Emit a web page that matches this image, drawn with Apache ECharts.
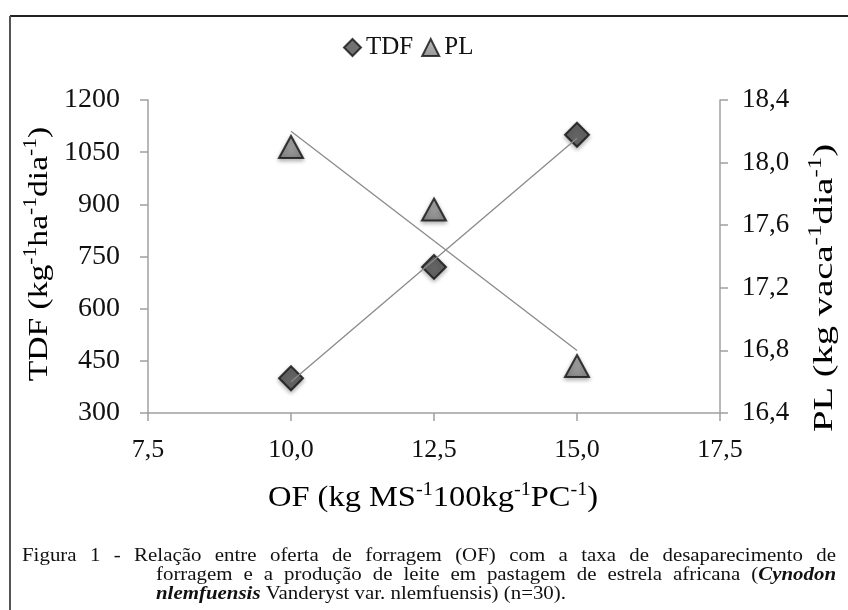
<!DOCTYPE html>
<html>
<head>
<meta charset="utf-8">
<script src="https://cdn.jsdelivr.net/npm/echarts@6/dist/echarts.min.js"></script>
<style>
html,body{margin:0;padding:0;background:#fff;}
#chart{width:848px;height:610px;}
</style>
</head>
<body>
<div id="chart"></div>
<script>
// ---- data ----
const ofValues = [10.0, 12.5, 15.0];
const tdfValues = [400, 720, 1100];
const plValues = [18.1, 17.7, 16.7];
// trend line end points
const tdfTrendX = [10.0, 15.0];
const tdfTrendY = [390, 1090];
const plTrendX = [10.0, 15.0];
const plTrendY = [18.2, 16.8];
const xTicks = [7.5, 10.0, 12.5, 15.0, 17.5];
const leftTicks = [300, 450, 600, 750, 900, 1050, 1200];
const rightTicks = [16.4, 16.8, 17.2, 17.6, 18.0, 18.4];

const SERIF = '"Liberation Serif", "DejaVu Serif", serif';
const comma1 = v => Number(v).toFixed(1).replace('.', ',');

const chart = echarts.init(document.getElementById('chart'), null, {renderer: 'canvas'});

const captionFont = 19;
const capScale = 1.1;
const caption = [
  {x0: 22, x1: 836, y: 556, justify: true, words: [
    ['Figura','n'],['1','n'],['-','n'],['Relação','n'],['entre','n'],['oferta','n'],['de','n'],['forragem','n'],['(OF)','n'],['com','n'],['a','n'],['taxa','n'],['de','n'],['desaparecimento','n'],['de','n']]},
  {x0: 156, x1: 836, y: 575, justify: true, words: [
    ['forragem','n'],['e','n'],['a','n'],['produção','n'],['de','n'],['leite','n'],['em','n'],['pastagem','n'],['de','n'],['estrela','n'],['africana','n'],['(','n',true],['Cynodon','b']]},
  {x0: 156, x1: 836, y: 594, justify: false, words: [
    ['nlemfuensis','b'],['Vanderyst','n'],['var.','n'],['nlemfuensis)','n'],['(n=30).','n']]}
];

function fontOf(kind) {
  return (kind === 'b' ? 'italic bold ' : '') + captionFont + 'px ' + SERIF;
}
const measureCtx = document.createElement('canvas').getContext('2d');
function measure(t, kind) { measureCtx.font = fontOf(kind); return measureCtx.measureText(t).width * capScale; }

const graphics = [];
// frame lines
graphics.push({type: 'line', shape: {x1: 10, y1: 16, x2: 848, y2: 16}, style: {stroke: '#222', lineWidth: 2}});
graphics.push({type: 'line', shape: {x1: 10, y1: 16, x2: 10, y2: 610}, style: {stroke: '#555', lineWidth: 2}});

caption.forEach(line => {
  const groups = [];
  line.words.forEach(w => {
    if (groups.length && groups[groups.length - 1].glueNext) {
      groups[groups.length - 1].parts.push(w);
      groups[groups.length - 1].glueNext = !!w[2];
    } else {
      groups.push({parts: [w], glueNext: !!w[2]});
    }
  });
  groups.forEach(g => g.w = g.parts.reduce((s, p) => s + measure(p[0], p[1]), 0));
  const total = groups.reduce((s, g) => s + g.w, 0);
  const spaceW = measure(' ', 'n');
  const gap = line.justify ? (line.x1 - line.x0 - total) / (groups.length - 1) : spaceW;
  let x = line.x0;
  groups.forEach(g => {
    let gx = x;
    g.parts.forEach(p => {
      graphics.push({type: 'text', x: gx, y: line.y, scaleX: capScale, style: {
        text: p[0], font: fontOf(p[1]), fill: '#111', align: 'left', verticalAlign: 'middle'}});
      gx += measure(p[0], p[1]);
    });
    x += g.w + gap;
  });
});

// axis names
function richNames(base, sup, lh) {
  return {
    b: {fontSize: base, fontFamily: SERIF, color: '#1a1a1a', verticalAlign: 'bottom', lineHeight: lh},
    s: {fontSize: sup, fontFamily: SERIF, color: '#1a1a1a', verticalAlign: 'top', lineHeight: lh}
  };
}
graphics.push({type: 'text', x: 38, y: 254, rotation: Math.PI / 2, scaleX: 1.2, style: {
  text: '{b|TDF (kg}{s|-1}{b|ha}{s|-1}{b|dia}{s|-1}{b|)}', rich: richNames(28, 18, 31), align: 'center', verticalAlign: 'middle'}});
graphics.push({type: 'text', x: 823, y: 288, rotation: Math.PI / 2, scaleX: 1.38, style: {
  text: '{b|PL (kg vaca}{s|-1}{b|dia}{s|-1}{b|)}', rich: richNames(28, 18, 31), align: 'center', verticalAlign: 'middle'}});
graphics.push({type: 'text', x: 433, y: 497, scaleX: 1.12, style: {
  text: '{b|OF (kg MS}{s|-1}{b|100kg}{s|-1}{b|PC}{s|-1}{b|)}', rich: richNames(29, 18, 32), align: 'center', verticalAlign: 'middle'}});

const axisLineStyle = {color: '#a0a0a0', width: 1.5};

const option = {
  backgroundColor: '#fff',
  animation: false,
  textStyle: {fontFamily: SERIF},
  legend: {
    top: 30, left: 338,
    itemWidth: 17, itemHeight: 17, itemGap: 8,
    textStyle: {fontSize: 25, fontFamily: SERIF, color: '#111'},
    data: ['TDF', 'PL']
  },
  grid: {left: 148, right: 128, top: 100, bottom: 197, containLabel: false},
  xAxis: {
    type: 'value', min: 7.5, max: 17.5, interval: 2.5,
    axisLine: {lineStyle: axisLineStyle},
    axisTick: {show: true, length: 8, lineStyle: axisLineStyle},
    splitLine: {show: false},
    axisLabel: {fontSize: 26, fontFamily: SERIF, color: '#111', margin: 24, formatter: v => comma1(v)}
  },
  yAxis: [{
    type: 'value', min: 300, max: 1200, interval: 150, position: 'left',
    axisLine: {show: true, lineStyle: axisLineStyle},
    axisTick: {show: true, length: 8, lineStyle: axisLineStyle},
    splitLine: {show: false},
    axisLabel: {fontSize: 28, fontFamily: SERIF, color: '#111', margin: 28, formatter: v => String(v)}
  }, {
    type: 'value', min: 16.4, max: 18.4, interval: 0.4, position: 'right',
    axisLine: {show: true, lineStyle: axisLineStyle},
    axisTick: {show: true, length: 8, lineStyle: axisLineStyle},
    splitLine: {show: false},
    axisLabel: {fontSize: 27, fontFamily: SERIF, color: '#111', margin: 22, formatter: v => comma1(v)}
  }],
  series: [
    {
      name: 'TDF', type: 'scatter', symbol: 'diamond', symbolSize: 24, z: 3,
      itemStyle: {color: '#4d4d4d', borderColor: '#111', borderWidth: 2,
        shadowBlur: 4, shadowColor: 'rgba(0,0,0,0.35)', shadowOffsetY: 2},
      data: ofValues.map((x, i) => [x, tdfValues[i]])
    },
    {
      name: 'PL', type: 'scatter', symbol: 'triangle', symbolSize: [24, 22], yAxisIndex: 1, z: 3,
      itemStyle: {
        color: new echarts.graphic.LinearGradient(0, 0, 0, 1, [{offset: 0, color: '#b0b0b0'}, {offset: 1, color: '#7a7a7a'}]),
        borderColor: '#111', borderWidth: 2,
        shadowBlur: 4, shadowColor: 'rgba(0,0,0,0.35)', shadowOffsetY: 2},
      data: ofValues.map((x, i) => [x, plValues[i]])
    },
    {
      name: 'TDF trend', type: 'line', showSymbol: false, symbol: 'none', z: 4, silent: true,
      lineStyle: {color: '#8a8a8a', width: 1.3},
      data: tdfTrendX.map((x, i) => [x, tdfTrendY[i]])
    },
    {
      name: 'PL trend', type: 'line', showSymbol: false, symbol: 'none', yAxisIndex: 1, z: 4, silent: true,
      lineStyle: {color: '#8a8a8a', width: 1.3},
      data: plTrendX.map((x, i) => [x, plTrendY[i]])
    }
  ],
  graphic: graphics
};
chart.setOption(option);
</script>
</body>
</html>
